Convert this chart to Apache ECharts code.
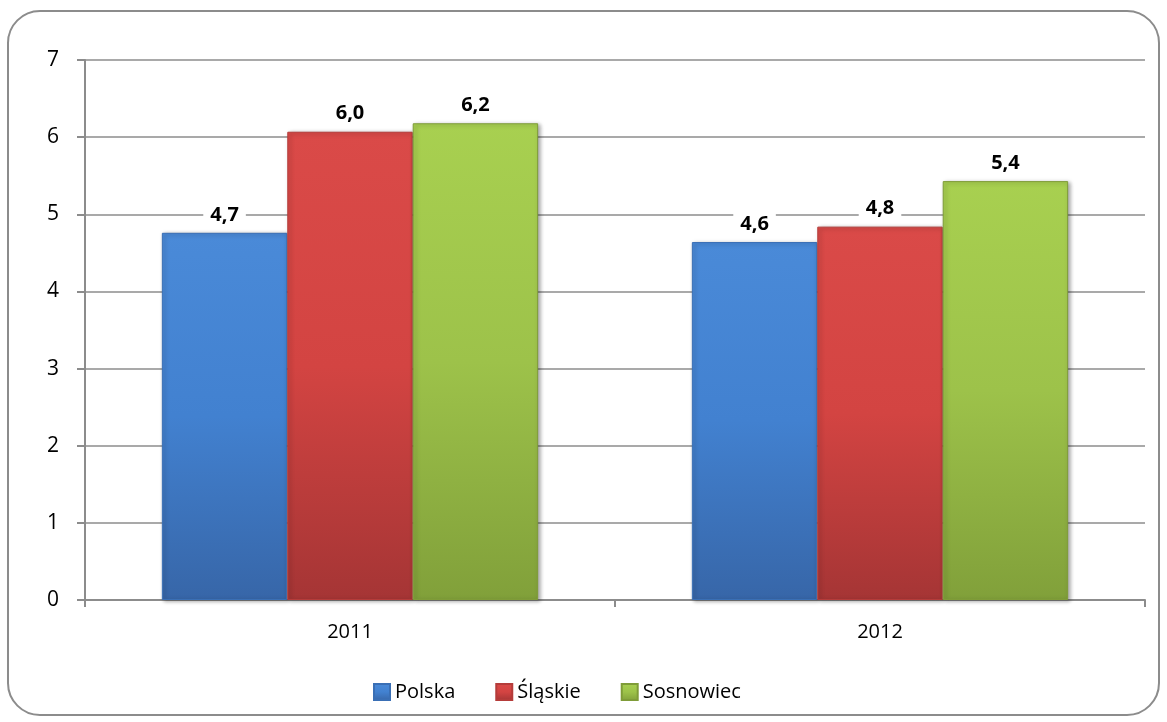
<!DOCTYPE html>
<html>
<head>
<meta charset="utf-8">
<script src="https://cdn.jsdelivr.net/npm/echarts@6/dist/echarts.min.js"></script>
<style>
html,body{margin:0;padding:0;background:#fff;}
#chart{width:1167px;height:722px;}
</style>
</head>
<body>
<div id="chart"></div>
<script>
const categories = ['2011', '2012'];
const seriesNames = ['Polska', 'Śląskie', 'Sosnowiec'];
const polska = [4.76, 4.64];
const slaskie = [6.07, 4.84];
const sosnowiec = [6.18, 5.43];
const polskaLabels = ['4,7', '4,6'];
const slaskieLabels = ['6,0', '4,8'];
const sosnowiecLabels = ['6,2', '5,4'];
const yTicks = [0, 1, 2, 3, 4, 5, 6, 7];

const FONT = 'Open Sans';
const chart = echarts.init(document.getElementById('chart'));

function grad(top, mid, bottom) {
  return new echarts.graphic.LinearGradient(0, 0, 0, 1, [
    {offset: 0, color: top}, {offset: 0.5, color: mid}, {offset: 1, color: bottom}
  ]);
}
const styles = [
  {color: grad('#4a8ad8', '#4281d0', '#3766a8'), border: '#3a6fb5', legend: '#3f76c0'},
  {color: grad('#da4a48', '#d34442', '#a53535'), border: '#b53c3a', legend: '#c84240'},
  {color: grad('#a8d050', '#9dc24a', '#81a03a'), border: '#7f9c38', legend: '#8fb140'}
];
const values = [polska, slaskie, sosnowiec];
const labels = [polskaLabels, slaskieLabels, sosnowiecLabels];

const series = seriesNames.map((name, i) => ({
  name: name,
  type: 'bar',
  barGap: '0%',
  barCategoryGap: '29%',
  data: values[i],
  itemStyle: {
    color: styles[i].color,
    borderColor: styles[i].border,
    borderWidth: 1,
    shadowColor: 'rgba(0,0,0,0.35)',
    shadowBlur: 4,
    shadowOffsetX: 2,
    shadowOffsetY: 1
  },
  label: {
    show: true,
    position: 'top',
    distance: 8,
    formatter: p => labels[i][p.dataIndex],
    fontFamily: FONT,
    fontWeight: 'bold',
    fontSize: 20,
    color: '#000',
    backgroundColor: '#fff',
    padding: [0, 7]
  }
}));

chart.setOption({
  animation: false,
  color: styles.map(s => s.legend),
  grid: {left: 85, right: 22, top: 60, bottom: 122, containLabel: false},
  legend: {
    data: seriesNames,
    bottom: 15,
    left: 368,
    itemWidth: 16,
    itemHeight: 16,
    itemGap: 40,
    textStyle: {fontFamily: FONT, fontSize: 20, color: '#000'},
    icon: 'rect'
  },
  xAxis: {
    type: 'category',
    data: categories,
    axisLine: {lineStyle: {color: '#8c8c8c', width: 2}},
    axisTick: {show: true, length: 7, lineStyle: {color: '#8c8c8c', width: 2}},
    axisLabel: {fontFamily: FONT, fontSize: 20, color: '#000', margin: 22}
  },
  yAxis: {
    type: 'value',
    min: yTicks[0],
    max: yTicks[yTicks.length - 1],
    interval: 1,
    axisLine: {show: true, lineStyle: {color: '#8c8c8c', width: 2}},
    axisTick: {show: true, length: 8, lineStyle: {color: '#8c8c8c', width: 2}},
    splitLine: {lineStyle: {color: '#8c8c8c', width: 1.5}},
    axisLabel: {fontFamily: FONT, fontSize: 21, color: '#000', margin: 26}
  },
  series: series,
  graphic: [{
    type: 'rect',
    shape: {x: 8, y: 11, width: 1151, height: 704, r: 32},
    style: {fill: 'none', stroke: '#8c8c8c', lineWidth: 2},
    z: -1,
    silent: true
  }]
});
</script>
</body>
</html>
